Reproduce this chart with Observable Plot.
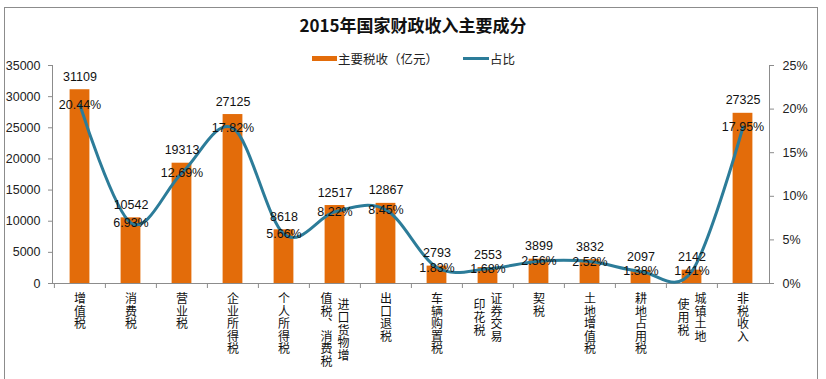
<!DOCTYPE html>
<html>
<head>
<meta charset="utf-8">
<script src="https://cdn.jsdelivr.net/npm/d3@7"></script>
<script src="https://cdn.jsdelivr.net/npm/@observablehq/plot@0.6"></script>
<style>
  body { margin: 0; background: #fff; }
  #wrap { position: relative; width: 826px; height: 379px; overflow: hidden; font-family: "Noto Sans CJK SC", "Liberation Sans", sans-serif; }
  #border { position: absolute; left: 4px; top: 7px; width: 814px; height: 400px; border: 1px solid #8c8c8c; box-sizing: border-box; }
  #title { position: absolute; top: 13px; left: 0; width: 826px; text-align: center; font-weight: bold; font-size: 17px; line-height: 24px; color: #111; }
  #legend { position: absolute; top: 49px; left: 312px; height: 18px; display: flex; align-items: center; font-size: 12.5px; color: #222; }
  .sw-bar { width: 25px; height: 5px; background: #E36C0A; margin-right: 1px; }
  .sw-line { width: 26px; height: 3px; background: #2C7C99; margin-left: 25px; margin-right: 1px; }
  #chart { position: absolute; left: 0; top: 0; }
</style>
</head>
<body>
<div id="wrap">
  <div id="border"></div>
  <div id="title"></div>
  <div id="legend"><span class="sw-bar"></span><span id="lg1"></span><span class="sw-line"></span><span id="lg2"></span></div>
  <div id="chart"></div>
</div>
<script>
const categories = ["增值税","消费税","营业税","企业所得税","个人所得税","进口货物增值税、消费税","出口退税","车辆购置税","证券交易印花税","契税","土地增值税","耕地占用税","城镇土地使用税","非税收入"];
const labelColumns = [["增值税"],["消费税"],["营业税"],["企业所得税"],["个人所得税"],["进口货物增","值税、消费税"],["出口退税"],["车辆购置税"],["证券交易","印花税"],["契税"],["土地增值税"],["耕地占用税"],["城镇土地","使用税"],["非税收入"]];
const revenue = [31109,10542,19313,27125,8618,12517,12867,2793,2553,3899,3832,2097,2142,27325];
const share = [20.44,6.93,12.69,17.82,5.66,8.22,8.45,1.83,1.68,2.56,2.52,1.38,1.41,17.95];
const leftTicks = [0,5000,10000,15000,20000,25000,30000,35000];
const rightTicks = [0,5,10,15,20,25];
const seriesNames = ["主要税收（亿元）","占比"];
const titleText = "2015年国家财政收入主要成分";

document.getElementById("title").textContent = titleText;
document.getElementById("lg1").textContent = seriesNames[0];
document.getElementById("lg2").textContent = seriesNames[1];

const yMax = leftTicks[leftTicks.length - 1];
const pMax = rightTicks[rightTicks.length - 1];
const ratio = yMax / pMax;

const data = categories.map((c, i) => ({cat: c, revenue: revenue[i], share: share[i]}));

const W = 826, H = 379, mL = 52, mR = 57, mT = 65, mB = 96;
const bw = (W - mL - mR) / categories.length;
const barW = 20;
const inset = (bw - barW) / 2;

const numFont = "'Liberation Sans', Arial, sans-serif";
const cjkFont = "'Noto Sans CJK SC', sans-serif";
const labFs = 12;
const pitch = 12.6;
const colGap = 8.5;

// vertical category label columns
const colRows = [];
labelColumns.forEach((cols, i) => {
  const maxLen = d3.max(cols, c => c.length);
  cols.forEach((col, j) => {
    const n = cols.length;
    colRows.push({
      cat: categories[i], t: col,
      off: n === 1 ? 0 : (j === 0 ? colGap : -colGap),
      top: (maxLen - col.length) / 2 * pitch
    });
  });
});
const offsets = Array.from(new Set(colRows.map(r => r.off + "|" + r.top)));
const labelMarks = offsets.map(key => {
  const [off, top] = key.split("|").map(Number);
  return Plot.text(colRows.filter(r => r.off === off && r.top === top), {
    x: "cat", y: () => 0, text: "t", dx: off, dy: 9 + top,
    textAnchor: "start", fontSize: labFs, fontFamily: cjkFont, fill: "#111",
    className: "vlabel"
  });
});

const chart = Plot.plot({
  width: W, height: H,
  marginLeft: mL, marginRight: mR, marginTop: mT, marginBottom: mB,
  style: {fontFamily: numFont, fontSize: "12.5px", color: "#222", background: "transparent"},
  x: {domain: categories, padding: 0, axis: null},
  y: {domain: [0, yMax], axis: null},
  marks: [
    Plot.barY(data, {x: "cat", y: "revenue", fill: "#E36C0A", insetLeft: inset, insetRight: inset}),
    Plot.frame({anchor: "left", stroke: "#8c8c8c"}),
    Plot.frame({anchor: "right", stroke: "#8c8c8c"}),
    Plot.frame({anchor: "bottom", stroke: "#8c8c8c"}),
    Plot.axisY({anchor: "left", ticks: leftTicks, tickFormat: d => String(d), tickSize: 4, tickPadding: 8, label: null, stroke: "#8c8c8c", fill: "#222", fontSize: 12.5}),
    Plot.axisY({anchor: "right", ticks: rightTicks.map(p => p * ratio), tickFormat: d => Math.round(d / ratio) + "%", tickSize: 4, tickPadding: 9, label: null, stroke: "#8c8c8c", fill: "#222", fontSize: 12.5}),
    Plot.axisX({anchor: "bottom", ticks: categories, tickSize: 5, tickFormat: () => "", label: null, dx: -bw / 2, stroke: "#8c8c8c"}),
    Plot.line(data, {x: "cat", y: d => d.share * ratio, stroke: "#2C7C99", strokeWidth: 3, curve: "cardinal"}),
    Plot.text(data, {x: "cat", y: "revenue", text: d => String(d.revenue), dy: -13, fontSize: 12.5, fill: "#111", fontFamily: numFont}),
    Plot.text(data, {x: "cat", y: d => d.share * ratio, text: d => d.share.toFixed(2) + "%", fontSize: 12.5, fill: "#111", fontFamily: numFont}),
    ...labelMarks
  ]
});
d3.select(chart).selectAll(".vlabel text")
  .attr("y", null)
  .attr("writing-mode", "vertical-rl")
  .style("writing-mode", "vertical-rl")
  .style("letter-spacing", (pitch - labFs) + "px");
document.getElementById("chart").appendChild(chart);
</script>
</body>
</html>
